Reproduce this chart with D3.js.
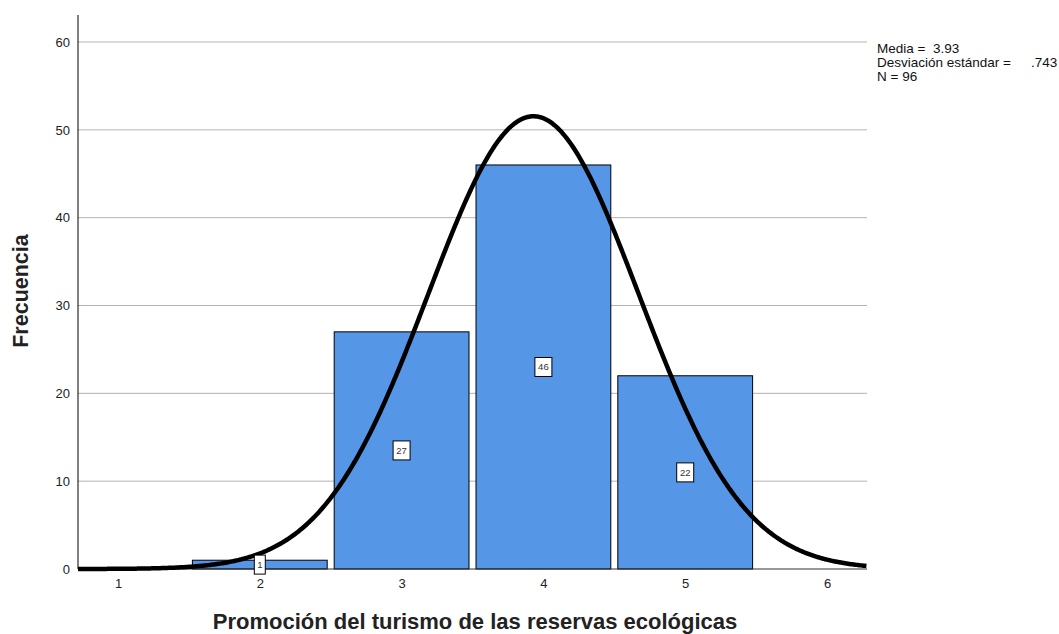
<!DOCTYPE html>
<html>
<head>
<meta charset="utf-8">
<script src="https://cdn.jsdelivr.net/npm/d3@7"></script>
<style>
  body { margin: 0; background: #fff; }
  text { font-family: Arial, "Liberation Sans", sans-serif; }
</style>
</head>
<body>
<div id="chart"></div>
<script>
// data
var categories = [2, 3, 4, 5];
var frequencies = [1, 27, 46, 22];
var yTicks = [0, 10, 20, 30, 40, 50, 60];
var xTicks = [1, 2, 3, 4, 5, 6];
var stats = { mean: 3.93, sd: 0.743, n: 96 };
var legendLines = ["Media =  3.93", "Desviación estándar =", "N = 96"];

var svgWidth = 1059;
var svgHeight = 634;

var margin = { top: 15, right: 192, bottom: 65, left: 78 };
var width = svgWidth - margin.left - margin.right;
var height = svgHeight - margin.top - margin.bottom;

var svg = d3.select("#chart")
  .append("svg")
  .attr("width", svgWidth)
  .attr("height", svgHeight);

var chartGroup = svg.append("g")
  .attr("transform", `translate(${margin.left}, ${margin.top})`);

var xScale = d3.scaleLinear()
  .domain([0.718, 6.282])
  .range([0, width]);

var yScale = d3.scaleLinear()
  .domain([0, 60])
  .range([height, 27]);

// gridlines
chartGroup.selectAll(".grid")
  .data(yTicks.filter(d => d > 0))
  .enter()
  .append("line")
  .attr("x1", 0)
  .attr("x2", width)
  .attr("y1", d => yScale(d))
  .attr("y2", d => yScale(d))
  .attr("stroke", "#b3b3b3")
  .attr("stroke-width", 1);

// bars
var inset = 3.5;
chartGroup.selectAll(".bar")
  .data(categories)
  .enter()
  .append("rect")
  .attr("x", d => xScale(d - 0.5) + inset)
  .attr("width", d => xScale(d + 0.5) - xScale(d - 0.5) - 2 * inset)
  .attr("y", (d, i) => yScale(frequencies[i]))
  .attr("height", (d, i) => yScale(0) - yScale(frequencies[i]))
  .attr("fill", "#5596e6")
  .attr("stroke", "#000")
  .attr("stroke-width", 1);

// x baseline
chartGroup.append("line")
  .attr("x1", 0).attr("x2", width)
  .attr("y1", yScale(0)).attr("y2", yScale(0))
  .attr("stroke", "#333").attr("stroke-width", 1);

// y axis
var leftAxis = d3.axisLeft(yScale).tickValues(yTicks).tickSize(0).tickPadding(8);
var yAxis = chartGroup.append("g").call(leftAxis);
yAxis.select(".domain").remove();
yAxis.selectAll("text").attr("font-size", 13).attr("fill", "#222")
  .style("font-family", "Arial, 'Liberation Sans', sans-serif");
chartGroup.append("line")
  .attr("x1", 0).attr("x2", 0)
  .attr("y1", 0).attr("y2", yScale(0))
  .attr("stroke", "#000").attr("stroke-width", 1);

// x axis
var bottomAxis = d3.axisBottom(xScale).tickValues(xTicks).tickFormat(d3.format("d"))
  .tickSize(0).tickPadding(10);
var xAxis = chartGroup.append("g")
  .attr("transform", `translate(0, ${height})`)
  .call(bottomAxis);
xAxis.select(".domain").remove();
xAxis.selectAll("text").attr("font-size", 13).attr("fill", "#222")
  .style("font-family", "Arial, 'Liberation Sans', sans-serif");

// normal curve
var normal = function(x) {
  var z = (x - stats.mean) / stats.sd;
  return stats.n / (stats.sd * Math.sqrt(2 * Math.PI)) * Math.exp(-0.5 * z * z);
};
var curveX = d3.range(0.718, 6.283, 0.01);
chartGroup.append("path")
  .datum(curveX)
  .attr("d", d3.line().x(d => xScale(d)).y(d => yScale(normal(d))))
  .attr("fill", "none")
  .attr("stroke", "#000")
  .attr("stroke-width", 4.5);

// value labels
var labels = chartGroup.selectAll(".lbl")
  .data(categories)
  .enter()
  .append("g")
  .attr("transform", (d, i) => `translate(${xScale(d)}, ${yScale(frequencies[i] / 2)})`);

labels.append("rect")
  .attr("x", (d, i) => frequencies[i] < 10 ? -5.5 : -8.5)
  .attr("y", -9.5)
  .attr("width", (d, i) => frequencies[i] < 10 ? 11 : 17)
  .attr("height", 19)
  .attr("fill", "#fff")
  .attr("stroke", "#000")
  .attr("stroke-width", 1);

labels.append("text")
  .attr("text-anchor", "middle")
  .attr("dy", "0.35em")
  .attr("font-size", 9.5)
  .attr("fill", "#333")
  .text((d, i) => frequencies[i]);

// axis titles
svg.append("text")
  .attr("transform", "translate(28, 291) rotate(-90)")
  .attr("text-anchor", "middle")
  .attr("font-size", 21.5)
  .attr("font-weight", "bold")
  .attr("fill", "#222")
  .text("Frecuencia");

svg.append("text")
  .attr("x", 475)
  .attr("y", 629)
  .attr("text-anchor", "middle")
  .attr("font-size", 22)
  .attr("font-weight", "bold")
  .attr("fill", "#222")
  .text("Promoción del turismo de las reservas ecológicas");

// stats legend
var legend = svg.append("g").attr("transform", "translate(877, 53)");
legend.selectAll("text")
  .data(legendLines)
  .enter()
  .append("text")
  .attr("x", 0)
  .attr("y", (d, i) => i * 14)
  .attr("font-size", 13.5)
  .attr("fill", "#111")
  .style("white-space", "pre")
  .text(d => d);
legend.append("text")
  .attr("x", 154)
  .attr("y", 14)
  .attr("font-size", 13.5)
  .attr("fill", "#111")
  .text(".743");
</script>
</body>
</html>
